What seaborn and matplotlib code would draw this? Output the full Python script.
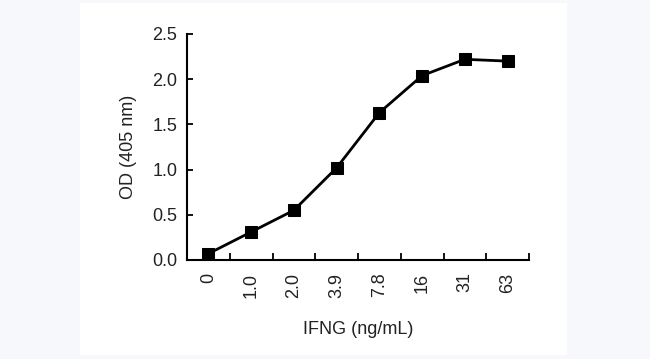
import matplotlib
matplotlib.use("Agg")
import matplotlib.pyplot as plt
import seaborn as sns
import pandas as pd
from matplotlib.patches import Rectangle
from matplotlib.ticker import FixedLocator

concentrations = ["0", "1.0", "2.0", "3.9", "7.8", "16", "31", "63"]
od_values = [0.07, 0.31, 0.55, 1.02, 1.63, 2.04, 2.22, 2.20]
y_ticks = [0.0, 0.5, 1.0, 1.5, 2.0, 2.5]

df = pd.DataFrame({"conc": concentrations, "od": od_values})

sns.set_theme(style="ticks")
plt.rcParams["font.family"] = ["Liberation Sans", "DejaVu Sans"]

fig = plt.figure(figsize=(6.5, 3.59), dpi=100, facecolor="#f7f8fc")
bg = Rectangle((80 / 650, 1 - 355 / 359), (567 - 80) / 650, (355 - 3) / 359,
               transform=fig.transFigure, facecolor="white", edgecolor="none", zorder=-10)
fig.add_artist(bg)
ax = fig.add_axes([187 / 650, 1 - 260 / 359, (529 - 187) / 650, (260 - 34) / 359])
ax.set_zorder(5)
ax.set_facecolor("none")

sns.lineplot(data=df, x="conc", y="od", ax=ax, color="black", linewidth=2.0,
             marker="s", markersize=8.5, markeredgecolor="black", sort=False)

ax.set_xlim(-0.5, 7.5)
ax.set_ylim(0, 2.5)
ax.set_yticks(y_ticks)
ax.set_yticklabels([f"{v:.1f}" for v in y_ticks])
ax.set_xticks(range(len(concentrations)))
ax.set_xticklabels(concentrations, rotation=90)
ax.xaxis.set_minor_locator(FixedLocator([i + 0.5 for i in range(len(concentrations))]))
ax.tick_params(axis="x", which="major", length=0, pad=9, labelsize=13, labelcolor="#222222")
ax.tick_params(axis="x", which="minor", direction="in", length=5, width=1.3, color="black")
ax.tick_params(axis="y", direction="in", length=4, width=1.3, pad=7, labelsize=13,
               color="black", labelcolor="#222222")
for s in ["top", "right"]:
    ax.spines[s].set_visible(False)
for s in ["left", "bottom"]:
    ax.spines[s].set_linewidth(1.5)
    ax.spines[s].set_color("black")

ax.set_xlabel("IFNG (ng/mL)", fontsize=13, labelpad=17, color="#222222")
ax.set_ylabel("OD (405 nm)", fontsize=13, labelpad=11, color="#222222")

fig.savefig("out.png", dpi=100, facecolor=fig.get_facecolor())
